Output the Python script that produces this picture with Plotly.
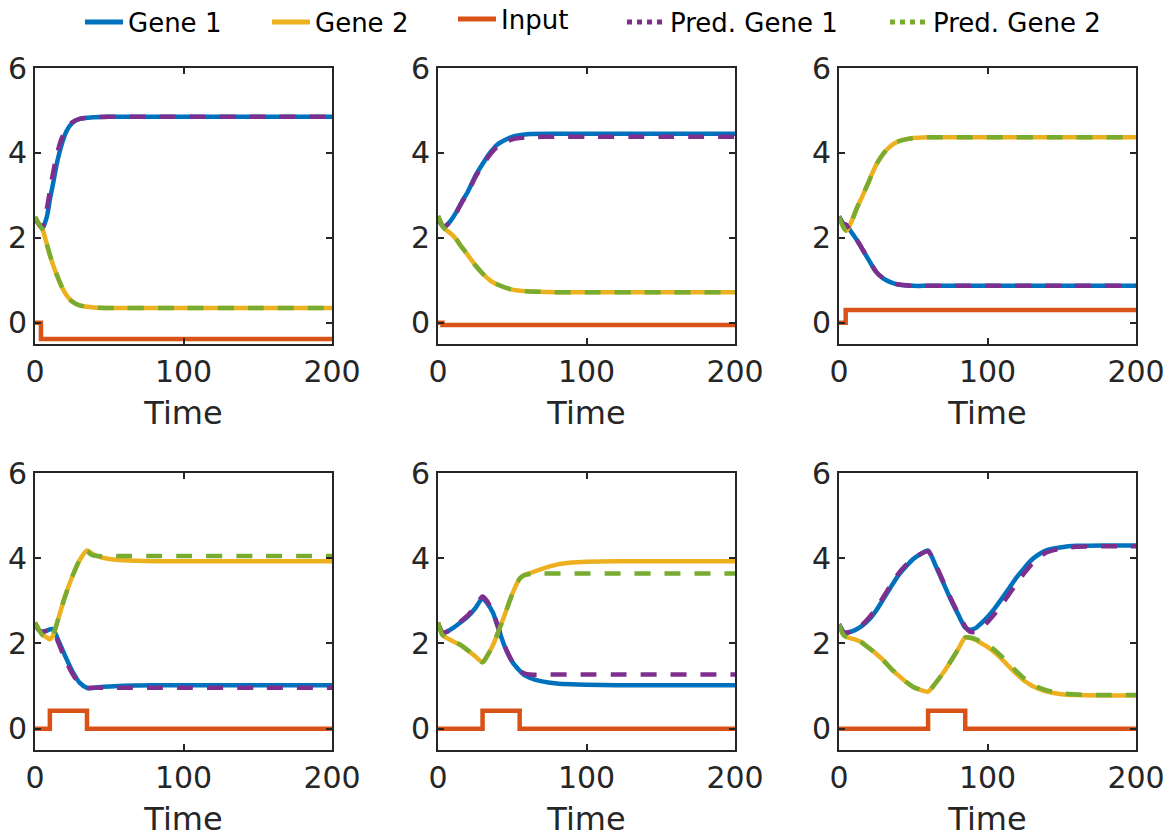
import plotly.graph_objects as go
from plotly.subplots import make_subplots

# ---------------- data ----------------
# Panel 1
p1_t = [0, 3, 5, 8, 10, 12, 15, 18, 21, 25, 30, 40, 50, 100, 150, 200]
p1_gene1 = [2.49, 2.3, 2.22, 2.5, 2.9, 3.25, 3.8, 4.2, 4.5, 4.7, 4.8, 4.84, 4.85, 4.85, 4.85, 4.85]
p1_pred1 = [2.45, 2.3, 2.25, 2.7, 3.1, 3.5, 4.0, 4.35, 4.55, 4.72, 4.8, 4.84, 4.85, 4.85, 4.85, 4.85]
p1_gene2 = [2.49, 2.3, 2.2, 1.85, 1.6, 1.38, 1.1, 0.85, 0.66, 0.5, 0.41, 0.36, 0.35, 0.35, 0.35, 0.35]
p1_pred2 = [2.49, 2.3, 2.2, 1.85, 1.6, 1.38, 1.1, 0.85, 0.66, 0.5, 0.41, 0.36, 0.35, 0.35, 0.35, 0.35]
p1_in_t = [0, 4, 200]
p1_in = [0, -0.38, -0.38]

# Panel 2
p2_t = [0, 3, 5, 8, 12, 16, 20, 25, 30, 35, 40, 50, 60, 80, 100, 150, 200]
p2_gene1 = [2.51, 2.3, 2.28, 2.38, 2.59, 2.85, 3.08, 3.45, 3.74, 4.0, 4.2, 4.38, 4.44, 4.45, 4.45, 4.45, 4.45]
p2_pred1 = [2.45, 2.28, 2.27, 2.37, 2.57, 2.83, 3.06, 3.42, 3.7, 3.96, 4.15, 4.32, 4.37, 4.38, 4.38, 4.38, 4.38]
p2_gene2 = [2.51, 2.28, 2.2, 2.12, 1.98, 1.78, 1.6, 1.36, 1.16, 1.0, 0.9, 0.78, 0.74, 0.72, 0.72, 0.72, 0.72]
p2_pred2 = [2.51, 2.28, 2.2, 2.12, 1.98, 1.78, 1.6, 1.36, 1.16, 1.0, 0.9, 0.78, 0.74, 0.72, 0.72, 0.72, 0.72]
p2_in_t = [0, 3, 200]
p2_in = [0, -0.05, -0.05]

# Panel 3
p3_t = [0, 3, 5, 8, 12, 16, 20, 25, 30, 35, 40, 50, 60, 80, 100, 150, 200]
p3_gene1 = [2.5, 2.33, 2.3, 2.15, 1.95, 1.72, 1.48, 1.2, 1.04, 0.95, 0.9, 0.87, 0.87, 0.87, 0.87, 0.87, 0.87]
p3_pred1 = [2.5, 2.33, 2.3, 2.15, 1.95, 1.72, 1.48, 1.2, 1.04, 0.95, 0.9, 0.87, 0.87, 0.87, 0.87, 0.87, 0.87]
p3_gene2 = [2.5, 2.25, 2.17, 2.35, 2.7, 3.0, 3.32, 3.72, 3.99, 4.17, 4.27, 4.35, 4.37, 4.37, 4.37, 4.37, 4.37]
p3_pred2 = [2.5, 2.25, 2.17, 2.35, 2.7, 3.0, 3.32, 3.72, 3.99, 4.17, 4.27, 4.35, 4.37, 4.37, 4.37, 4.37, 4.37]
p3_in_t = [0, 4.5, 200]
p3_in = [0, 0.3, 0.3]

# Panel 4
p4_t = [0, 3, 5, 8, 10, 12, 15, 20, 25, 30, 35, 38, 42, 50, 60, 80, 100, 150, 200]
p4_gene1 = [2.49, 2.3, 2.28, 2.3, 2.33, 2.34, 2.13, 1.73, 1.36, 1.08, 0.96, 0.95, 0.97, 0.99, 1.01, 1.02, 1.02, 1.02, 1.02]
p4_pred1 = [2.45, 2.3, 2.27, 2.3, 2.32, 2.3, 2.08, 1.65, 1.3, 1.06, 0.96, 0.96, 0.96, 0.96, 0.96, 0.96, 0.96, 0.96, 0.96]
p4_gene2 = [2.49, 2.3, 2.2, 2.14, 2.1, 2.18, 2.5, 3.08, 3.56, 3.95, 4.18, 4.12, 4.05, 3.98, 3.95, 3.93, 3.93, 3.93, 3.93]
p4_pred2 = [2.49, 2.3, 2.2, 2.14, 2.1, 2.18, 2.5, 3.08, 3.56, 3.95, 4.16, 4.08, 4.05, 4.05, 4.05, 4.05, 4.05, 4.05, 4.05]
p4_in_t = [0, 10, 35, 200]
p4_in = [0, 0.42, 0, 0]

# Panel 5
p5_t = [0, 3, 5, 10, 15, 20, 25, 30, 33, 37, 40, 45, 50, 55, 58, 62, 70, 80, 90, 100, 120, 150, 200]
p5_gene1 = [2.49, 2.26, 2.26, 2.36, 2.49, 2.63, 2.82, 3.06, 2.95, 2.72, 2.42, 1.92, 1.57, 1.36, 1.26, 1.19, 1.11, 1.06, 1.04, 1.03, 1.02, 1.02, 1.02]
p5_pred1 = [2.45, 2.26, 2.26, 2.37, 2.51, 2.66, 2.86, 3.1, 3.0, 2.74, 2.44, 1.94, 1.58, 1.37, 1.3, 1.27, 1.27, 1.27, 1.27, 1.27, 1.27, 1.27, 1.27]
p5_gene2 = [2.49, 2.2, 2.15, 2.05, 1.97, 1.84, 1.7, 1.56, 1.7, 1.96, 2.22, 2.68, 3.16, 3.52, 3.6, 3.65, 3.75, 3.85, 3.9, 3.92, 3.93, 3.93, 3.93]
p5_pred2 = [2.49, 2.2, 2.15, 2.05, 1.97, 1.84, 1.7, 1.56, 1.7, 1.96, 2.22, 2.68, 3.16, 3.52, 3.6, 3.63, 3.64, 3.64, 3.64, 3.64, 3.64, 3.64, 3.64]
p5_in_t = [0, 30, 55, 200]
p5_in = [0, 0.42, 0, 0]

# Panel 6
p6_t = [0, 3, 5, 10, 15, 20, 25, 30, 35, 40, 45, 50, 55, 60, 65, 70, 75, 80, 85, 88, 92, 96,
        100, 105, 110, 115, 120, 125, 130, 135, 140, 150, 160, 180, 200]
p6_gene1 = [2.45, 2.27, 2.25, 2.3, 2.4, 2.55, 2.77, 3.05, 3.33, 3.6, 3.8, 3.98, 4.1, 4.18, 3.83, 3.44,
            3.05, 2.7, 2.37, 2.32, 2.36, 2.48, 2.62, 2.83, 3.07, 3.32, 3.57, 3.78, 3.97, 4.1, 4.19,
            4.26, 4.29, 4.3, 4.3]
p6_pred1 = [2.45, 2.27, 2.25, 2.31, 2.42, 2.6, 2.82, 3.1, 3.38, 3.64, 3.84, 4.0, 4.1, 4.16, 3.85, 3.47,
            3.08, 2.72, 2.4, 2.28, 2.27, 2.36, 2.5, 2.7, 2.93, 3.18, 3.43, 3.66, 3.87, 4.03, 4.14,
            4.23, 4.27, 4.28, 4.28]
p6_gene2 = [2.45, 2.2, 2.15, 2.1, 2.03, 1.9, 1.76, 1.6, 1.41, 1.25, 1.1, 0.98, 0.91, 0.87, 1.07, 1.3,
            1.57, 1.85, 2.14, 2.13, 2.08, 2.0, 1.92, 1.78, 1.62, 1.44, 1.27, 1.12, 1.01, 0.93, 0.87,
            0.81, 0.79, 0.78, 0.78]
p6_pred2 = [2.45, 2.2, 2.15, 2.1, 2.03, 1.9, 1.76, 1.6, 1.41, 1.25, 1.1, 0.98, 0.91, 0.87, 1.07, 1.3,
            1.57, 1.85, 2.14, 2.14, 2.1, 2.04, 1.97, 1.84, 1.68, 1.5, 1.33, 1.17, 1.05, 0.96, 0.9,
            0.83, 0.8, 0.79, 0.79]
p6_in_t = [0, 60, 85, 200]
p6_in = [0, 0.42, 0, 0]

panels = [
    (p1_t, p1_gene1, p1_gene2, p1_pred1, p1_pred2, p1_in_t, p1_in),
    (p2_t, p2_gene1, p2_gene2, p2_pred1, p2_pred2, p2_in_t, p2_in),
    (p3_t, p3_gene1, p3_gene2, p3_pred1, p3_pred2, p3_in_t, p3_in),
    (p4_t, p4_gene1, p4_gene2, p4_pred1, p4_pred2, p4_in_t, p4_in),
    (p5_t, p5_gene1, p5_gene2, p5_pred1, p5_pred2, p5_in_t, p5_in),
    (p6_t, p6_gene1, p6_gene2, p6_pred1, p6_pred2, p6_in_t, p6_in),
]

legend_names = ["Gene 1", "Gene 2", "Input", "Pred. Gene 1", "Pred. Gene 2"]
x_ticks = [0, 100, 200]
y_ticks = [0, 2, 4, 6]

# ---------------- styling ----------------
C_G1 = "#0072BD"
C_G2 = "#EDB120"
C_IN = "#D95319"
C_P1 = "#7E2F8E"
C_P2 = "#77AC30"
AX = "#262626"
FONT = "DejaVu Sans"
W, H = 1172, 834
OFF = 8  # page body margin offset
LW = 4.5
DASH = "16px,14px"

fig = make_subplots(rows=2, cols=3)

for i, (t, g1, g2, q1, q2, it, iv) in enumerate(panels):
    r, c = i // 3 + 1, i % 3 + 1
    fig.add_trace(go.Scatter(x=t, y=g1, mode="lines", line=dict(color=C_G1, width=LW, shape="spline", smoothing=0.7),
                             showlegend=False), row=r, col=c)
    fig.add_trace(go.Scatter(x=t, y=g2, mode="lines", line=dict(color=C_G2, width=LW, shape="spline", smoothing=0.7),
                             showlegend=False), row=r, col=c)
    fig.add_trace(go.Scatter(x=it, y=iv, mode="lines", line=dict(color=C_IN, width=LW, shape="hv"),
                             showlegend=False), row=r, col=c)
    fig.add_trace(go.Scatter(x=t, y=q1, mode="lines", line=dict(color=C_P1, width=LW, dash=DASH, shape="spline", smoothing=0.7),
                             showlegend=False), row=r, col=c)
    fig.add_trace(go.Scatter(x=t, y=q2, mode="lines", line=dict(color=C_P2, width=LW, dash=DASH, shape="spline", smoothing=0.7),
                             showlegend=False), row=r, col=c)

# legend-only traces, each in its own legend for exact placement
leg_colors = [C_G1, C_G2, C_IN, C_P1, C_P2]
leg_dash = ["solid", "solid", "solid", "dot", "dot"]
leg_text_x = [130, 317, 503, 672, 935]
leg_y = [22, 22, 19, 22, 22]
for k, name in enumerate(legend_names):
    lname = "legend" if k == 0 else f"legend{k+1}"
    fig.add_trace(go.Scatter(x=[None], y=[None], mode="lines", name=name,
                             line=dict(color=leg_colors[k], width=5, dash=leg_dash[k]),
                             legend=lname, showlegend=True), row=1, col=1)
    fig.update_layout({lname: dict(
        xref="container", yref="container",
        x=(leg_text_x[k] - 50 - OFF) / W, xanchor="left",
        y=1 - (leg_y[k] - OFF) / H, yanchor="middle",
        orientation="h", bgcolor="rgba(0,0,0,0)",
        font=dict(family=FONT, size=26, color="black"),
        itemwidth=38, tracegroupgap=0)})

x_dom = [(35, 332), (438, 735), (839, 1136)]
y_dom = [(68, 344), (473, 750)]

for i in range(6):
    r, c = i // 3, i % 3
    xa = "xaxis" if i == 0 else f"xaxis{i+1}"
    ya = "yaxis" if i == 0 else f"yaxis{i+1}"
    fig.update_layout({
        xa: dict(domain=[(x_dom[c][0] - OFF) / W, (x_dom[c][1] - OFF) / W], range=[0, 200], automargin=False,
                 tickvals=x_ticks, ticks="inside", ticklen=6, tickwidth=1.5, tickcolor=AX,
                 showline=True, linecolor=AX, linewidth=2, mirror="ticks",
                 showgrid=False, zeroline=False,
                 tickfont=dict(family=FONT, size=30, color=AX),
                 title=dict(text="Time", font=dict(family=FONT, size=32, color=AX), standoff=14)),
        ya: dict(domain=[1 - (y_dom[r][1] - OFF) / H, 1 - (y_dom[r][0] - OFF) / H], range=[-0.5, 6], automargin=False,
                 tickvals=y_ticks, ticks="inside", ticklen=6, tickwidth=1.5, tickcolor=AX,
                 showline=True, linecolor=AX, linewidth=2, mirror="ticks",
                 showgrid=False, zeroline=False,
                 tickfont=dict(family=FONT, size=30, color=AX)),
    })

fig.update_layout(width=W, height=H, margin=dict(l=0, r=0, t=0, b=0, autoexpand=False),
                  paper_bgcolor="white", plot_bgcolor="white",
                  font=dict(family=FONT))

fig.write_html("out.html")
